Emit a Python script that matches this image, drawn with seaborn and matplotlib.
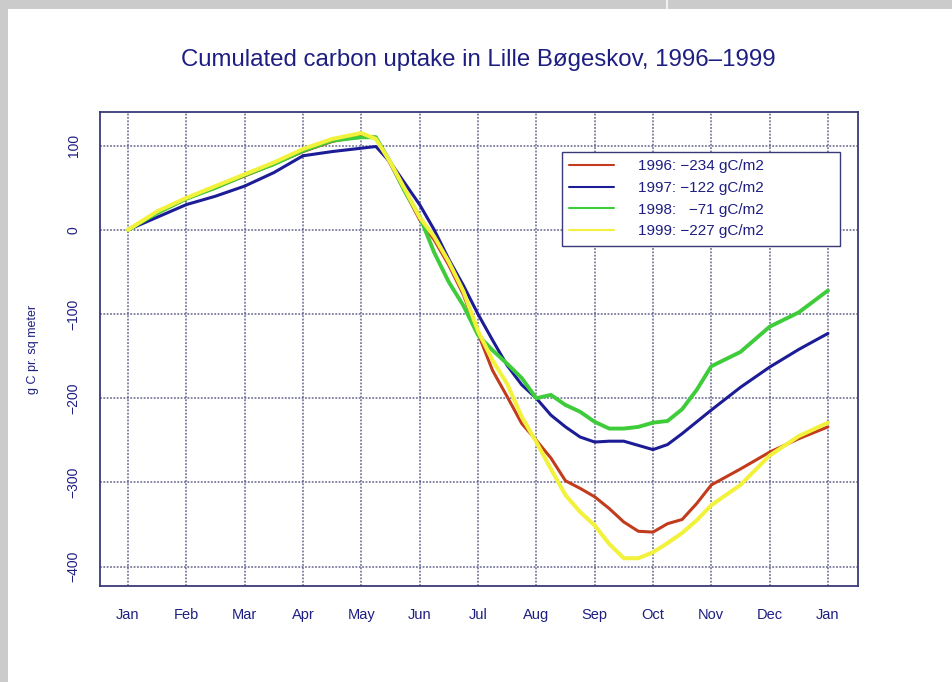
import numpy as np
import pandas as pd
import matplotlib
matplotlib.use("Agg")
import matplotlib.pyplot as plt
from matplotlib.patches import Rectangle
import seaborn as sns

# ---------------- data (month units: 0 = Jan 1, 12 = next Jan 1) ----------------
MONTHS = [0, 0.5, 1, 1.5, 2, 2.5, 3, 3.5, 4, 4.25, 4.5, 4.75, 5, 5.25, 5.5, 5.75,
          6, 6.25, 6.5, 6.75, 7, 7.25, 7.5, 7.75, 8, 8.25, 8.5, 8.75, 9, 9.25,
          9.5, 9.75, 10, 10.5, 11, 11.5, 12]

Y1996 = [0, 20, 37, 50, 64, 78, 93, 105, 112, 110, 78, 45, 12, -12, -42, -77,
         -123, -167, -198, -230, -250, -271, -298, -307, -317, -331, -347, -358, -359, -349,
         -344, -325, -303, -284, -264, -248, -234]
Y1997 = [0, 15, 30, 40, 52, 68, 88, 93, 97, 99, 80, 55, 30, 0, -35, -66,
         -100, -131, -161, -184, -200, -220, -234, -246, -252, -251, -251, -256, -261, -255,
         -242, -228, -214, -187, -163, -142, -123]
Y1998 = [0, 20, 37, 50, 65, 78, 94, 106, 110, 110, 80, 45, 16, -27, -62, -90,
         -125, -143, -159, -176, -200, -196, -208, -216, -228, -236, -236, -234, -229, -227,
         -213, -190, -162, -145, -115, -98, -72]
Y1999 = [0, 22, 38, 52, 66, 80, 96, 108, 115, 108, 80, 48, 15, -8, -38, -73,
         -120, -155, -183, -222, -252, -284, -315, -335, -351, -373, -390, -390, -383, -372,
         -360, -345, -327, -303, -268, -245, -229]

YEARS = ["1996", "1997", "1998", "1999"]
LEGEND_LABELS = ["1996: \u2212234 gC/m2", "1997: \u2212122 gC/m2",
                 "1998:   \u221271 gC/m2", "1999: \u2212227 gC/m2"]
MONTH_LABELS = ["Jan", "Feb", "Mar", "Apr", "May", "Jun", "Jul",
                "Aug", "Sep", "Oct", "Nov", "Dec", "Jan"]
Y_TICKS = [100, 0, -100, -200, -300, -400]

COLORS = {"1996": "#c23b1c", "1997": "#1c1c96", "1998": "#3fcc3a", "1999": "#f2f23c"}
WIDTHS = {"1996": 2.2, "1997": 2.2, "1998": 2.8, "1999": 2.9}
NAVY = "#1e1e82"

# long format table for seaborn
frames = []
for yr, vals in zip(YEARS, [Y1996, Y1997, Y1998, Y1999]):
    frames.append(pd.DataFrame({"month": MONTHS, "value": vals, "year": yr}))
df = pd.concat(frames, ignore_index=True)

sns.set_style("white")
plt.rcParams["font.family"] = ["Liberation Sans", "DejaVu Sans"]

fig = plt.figure(figsize=(9.52, 6.82), dpi=100)
fig.patch.set_facecolor("white")
ax = fig.add_axes([100 / 952, 1 - 586 / 682, 758 / 952, 474 / 682])

# grey frame of the screenshot
fig.add_artist(Rectangle((0, 0), 8 / 952, 1, transform=fig.transFigure,
                         facecolor="#cbcbcb", edgecolor="none", zorder=0))
fig.add_artist(Rectangle((0, 1 - 9 / 682), 1, 9 / 682, transform=fig.transFigure,
                         facecolor="#cbcbcb", edgecolor="none", zorder=0))
fig.add_artist(Rectangle((666 / 952, 1 - 9 / 682), 2 / 952, 9 / 682, transform=fig.transFigure,
                         facecolor="#f2f2f2", edgecolor="none", zorder=1))

for yr in YEARS:
    sns.lineplot(data=df[df["year"] == yr], x="month", y="value", ax=ax,
                 color=COLORS[yr], linewidth=WIDTHS[yr], estimator=None,
                 sort=False, label=None, zorder=3)

ax.set_xlim(-0.48, 12.515)
ax.set_ylim(-423, 140)
ax.set_xticks(range(13))
ax.set_xticklabels(MONTH_LABELS)
ax.set_yticks(Y_TICKS)
ax.set_yticklabels([str(t).replace("-", "\u2212") for t in Y_TICKS], rotation=90, va="center")

ax.grid(True, color="#4a4a7a", linestyle=(0, (1.2, 1.0)), linewidth=1.1, alpha=0.85)
ax.set_axisbelow(True)
for s in ax.spines.values():
    s.set_color("#3a3a78")
    s.set_linewidth(1.3)
ax.tick_params(axis="both", colors="#3a3a78", labelcolor=NAVY, length=4, width=1,
               direction="out", labelsize=10.5)
ax.tick_params(axis="x", pad=12)
ax.tick_params(axis="y", pad=10, labelsize=10)

ax.set_xlabel("")
ax.set_ylabel("g C pr. sq meter", color=NAVY, fontsize=9)
ax.yaxis.set_label_coords(-0.08, 0.5)

fig.text(478 / 952, 1 - 60 / 682, "Cumulated carbon uptake in Lille B\u00f8geskov, 1996\u20131999",
         ha="center", va="center", color=NAVY, fontsize=17.3)

handles = ax.get_lines()[:4]
leg = ax.legend(handles, LEGEND_LABELS, loc="upper left",
                bbox_to_anchor=(0.609, 0.709, 0.367, 0.207), mode="expand",
                borderaxespad=0, fontsize=11, handlelength=2.9, handletextpad=1.6,
                labelspacing=0.5, borderpad=0.5, fancybox=False, framealpha=1,
                edgecolor="#3a3a78")
leg.get_frame().set_linewidth(1.0)
for t in leg.get_texts():
    t.set_color(NAVY)
for h in leg.get_lines():
    h.set_linewidth(1.5)

fig.savefig("out.png", dpi=100)
